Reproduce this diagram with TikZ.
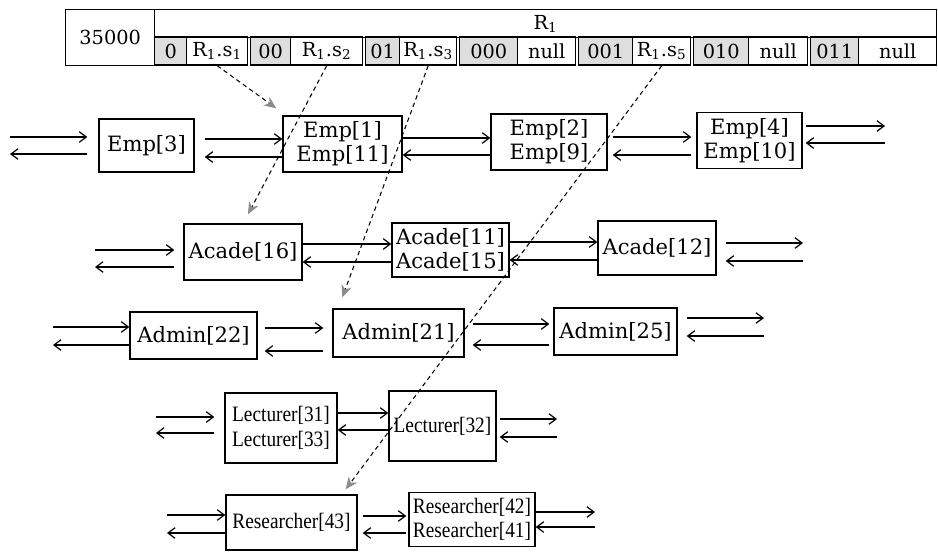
\documentclass[tikz,border=0pt]{standalone}
\usepackage{fontspec}
\setmainfont{DejaVu Serif}
\newfontfamily\tmsfont[FakeStretch=0.88]{Liberation Serif}
\usetikzlibrary{arrows.meta,calc}
\tikzset{
  box/.style={draw, line width=0.8pt, align=center, inner xsep=1pt, font=\fontsize{12}{13.5}\selectfont},
  tbox/.style={box, font=\tmsfont\fontsize{12.5}{14}\selectfont},
  tcell/.style={draw, line width=0.8pt, anchor=west, inner sep=0pt, minimum height=0.56cm, font=\fontsize{11}{13}\selectfont},
  code/.style={tcell, fill=black!13},
  link/.style={line width=0.7pt, -{Straight Barb[length=4pt,width=6pt]}},
  ptr/.style={line width=0.6pt, dash pattern=on 2.5pt off 2pt, -{Stealth[length=7pt,width=6pt,color=black!45]}}
}
% pair of arrows between two boxes: a, b, dy top, dy bottom, gap at a, gap at b
\newcommand\twoway[6]{%
  \draw[link] ($(#1.east)+(#5,#3)$) -- ($(#1.east -| #2.west)+(-#6,#3)$);
  \draw[link] ($(#1.east -| #2.west)+(-#6,#4)$) -- ($(#1.east)+(#5,#4)$);}
% free arrows left / right of a box: box, x, y top, y bottom, gap
\newcommand\stubL[5]{%
  \coordinate (#1-a) at (#2,#3);
  \coordinate (#1-b) at (#2,#4);
  \draw[link] (#1-a) -- ($(#1-a -| #1.west)+(-#5,0)$);
  \draw[link] ($(#1-b -| #1.west)+(-#5,0)$) -- (#1-b);}
\newcommand\stubR[5]{%
  \coordinate (#1-a) at (#2,#3);
  \coordinate (#1-b) at (#2,#4);
  \draw[link] ($(#1-a -| #1.east)+(#5,0)$) -- (#1-a);
  \draw[link] (#1-b) -- ($(#1-b -| #1.east)+(#5,0)$);}

\begin{document}
\begin{tikzpicture}[x=0.02cm, y=-0.02cm]
  \useasboundingbox (0,0) rectangle (938,552);

  %%%%% record table %%%%%
  \node[tcell, anchor=north west, minimum width=1.78cm, minimum height=1.12cm] (key) at (65,9) {35000};
  \node[tcell, anchor=north west, minimum width=15.64cm] (rec) at (154,9) {R\textsubscript{1}};
  \foreach \cx/\cw/\vx/\vw/\cd/\vl [count=\i] in {
      154/32/186/61/0/{R\textsubscript{1}.s\textsubscript{1}},
      250/40/290/72/00/{R\textsubscript{1}.s\textsubscript{2}},
      365/34/399/57/01/{R\textsubscript{1}.s\textsubscript{3}},
      459/58/517/58/000/null,
      578/54/632/58/001/{R\textsubscript{1}.s\textsubscript{5}},
      693/55/748/59/010/null,
      810/48/858/78/011/null}{
    \node[code, minimum width=\cw*0.02cm] (c\i) at (\cx,51) {\cd};
    \node[tcell, minimum width=\vw*0.02cm] (v\i) at (\vx,51) {\vl};
  }

  %%%%% Emp %%%%%
  \node[box, minimum width=1.9cm, minimum height=1.06cm] (emp3) at (146.5,145.5) {Emp[3]};
  \node[box, minimum width=2.38cm, minimum height=1.12cm] (emp1) at (342.5,144) {Emp[1]\\Emp[11]};
  \node[box, minimum width=2.32cm, minimum height=1.08cm] (emp2) at (549,142) {Emp[2]\\Emp[9]};
  \node[box, minimum width=2.1cm, minimum height=1.1cm] (emp4) at (749.5,140.5) {Emp[4]\\Emp[10]};
  \stubL{emp3}{10}{137}{154}{11}
  \twoway{emp3}{emp1}{-6.5}{11.5}{10}{0}
  \twoway{emp1}{emp2}{-6}{11}{0}{0}
  \twoway{emp2}{emp4}{-5}{13}{5}{5}
  \stubR{emp4}{885}{126}{143}{3}

  %%%%% Acade %%%%%
  \node[box, minimum width=2.36cm, minimum height=1.12cm] (ac16) at (243,252) {Acade[16]};
  \node[box, minimum width=2.34cm, minimum height=1.08cm] (ac11) at (450.5,250) {Acade[11]\\Acade[15]};
  \node[box, minimum width=2.36cm, minimum height=1.08cm] (ac12) at (657,248) {Acade[12]};
  \stubL{ac16}{95}{250}{267}{9}
  \twoway{ac16}{ac11}{-8}{10}{0}{0}
  \twoway{ac11}{ac12}{-8}{10}{0}{0}
  \stubR{ac12}{803}{243}{261}{9}

  %%%%% Admin %%%%%
  \node[box, minimum width=2.54cm, minimum height=0.94cm] (ad22) at (193.5,335.5) {Admin[22]};
  \node[box, minimum width=2.62cm, minimum height=0.96cm] (ad21) at (398.5,333) {Admin[21]};
  \node[box, minimum width=2.46cm, minimum height=0.94cm] (ad25) at (615.5,331.5) {Admin[25]};
  \stubL{ad22}{53}{327}{345}{0}
  \twoway{ad22}{ad21}{-7.5}{15.5}{7}{9}
  \twoway{ad21}{ad25}{-9}{12}{8}{4}
  \stubR{ad25}{764}{318}{336}{9}

  %%%%% Lecturer %%%%%
  \node[tbox, minimum width=2.24cm, minimum height=1.4cm] (le31) at (281,428) {Lecturer[31]\\Lecturer[33]};
  \node[tbox, minimum width=2.14cm, minimum height=1.4cm] (le32) at (442.5,426) {Lecturer[32]};
  \stubL{le31}{156}{417}{433}{10}
  \twoway{le31}{le32}{-15}{2}{0}{0}
  \stubR{le32}{557}{419}{437}{3}

  %%%%% Researcher %%%%%
  \node[tbox, minimum width=2.62cm, minimum height=1.1cm] (re43) at (291.5,522.5) {Researcher[43]};
  \node[tbox, minimum width=2.52cm, minimum height=1.06cm] (re42) at (472,519.5) {Researcher[42]\\Researcher[41]};
  \stubL{re43}{167}{515}{533}{0}
  \twoway{re43}{re42}{-6.5}{10.5}{5}{2}
  \stubR{re42}{595}{512}{527}{0}

  %%%%% pointers %%%%%
  \draw[ptr] (v1.south) -- ($(emp1.north west)+(-6,-7)$);
  \draw[ptr] (v2.south) -- ($(ac16.north)+(5,-9)$);
  \draw[ptr] (v3.south) -- ($(ad21.north west)+(10,-11)$);
  \draw[ptr] (v5.south) -- ($(re43.north east)+(-12,-5)$);
\end{tikzpicture}
\end{document}
